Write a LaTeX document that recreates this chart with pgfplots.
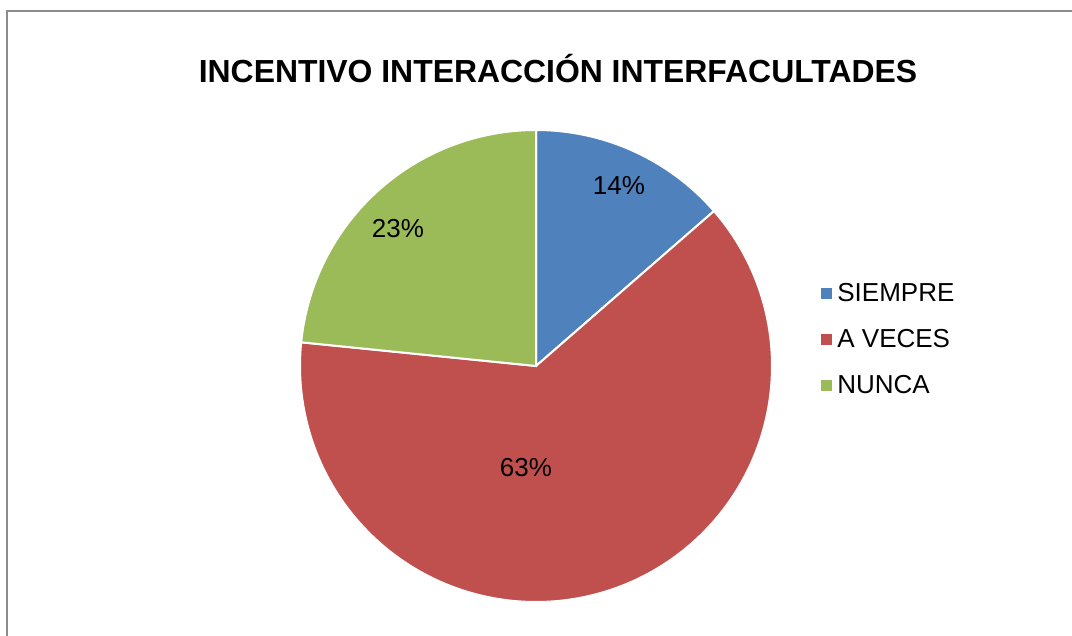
\documentclass[border=0pt]{standalone}
\usepackage{pgfplots}
\pgfplotsset{compat=1.18}
\usepackage{pgfplotstable}
\usepackage{fontspec}
\setmainfont{Liberation Sans}

\definecolor{siempre}{HTML}{4F81BD}
\definecolor{aveces}{HTML}{C0504D}
\definecolor{nunca}{HTML}{9BBB59}
\definecolor{marco}{HTML}{8C8C8C}

% porcentaje (la etiqueta muestra el valor redondeado)
\pgfplotstableread[col sep=comma]{
respuesta,porcentaje,etiqueta
SIEMPRE,13.6,14
A VECES,63.0,63
NUNCA,23.4,23
}\datos

\begin{document}
\begin{tikzpicture}
\pgfplotstablegetelem{0}{porcentaje}\of\datos \let\pA\pgfplotsretval
\pgfplotstablegetelem{1}{porcentaje}\of\datos \let\pB\pgfplotsretval
\pgfplotstablegetelem{2}{porcentaje}\of\datos \let\pC\pgfplotsretval
\pgfplotstablegetelem{0}{etiqueta}\of\datos \let\eA\pgfplotsretval
\pgfplotstablegetelem{1}{etiqueta}\of\datos \let\eB\pgfplotsretval
\pgfplotstablegetelem{2}{etiqueta}\of\datos \let\eC\pgfplotsretval
% angulos: desde arriba, en sentido horario
\pgfmathsetmacro\aA{90}
\pgfmathsetmacro\aB{\aA-3.6*\pA}
\pgfmathsetmacro\aC{\aB-3.6*\pB}
\pgfmathsetmacro\aD{\aC-3.6*\pC}
\begin{axis}[
    width=536pt, height=318pt, scale only axis,
    hide axis, clip=false,
    xmin=0, xmax=1072, ymin=0, ymax=636, y dir=reverse,
    legend style={at={(axis cs:815,275)}, anchor=north west,
        draw=none, fill=none, row sep=8.4pt,
        font=\fontsize{13}{15}\selectfont,
        nodes={inner xsep=2.5pt}},
    legend cell align=left,
    legend image code/.code={\fill[#1,draw=none] (0pt,-2.75pt) rectangle (5.5pt,2.75pt);},
  ]
  \addplot[fill=siempre, draw=white, line width=1pt, domain=\aB:\aA, samples=80]
    ({536+236*cos(x)}, {366-236*sin(x)}) -- (axis cs:536,366) -- cycle;
  \addlegendentry{SIEMPRE}
  \addplot[fill=aveces, draw=white, line width=1pt, domain=\aC:\aB, samples=200]
    ({536+236*cos(x)}, {366-236*sin(x)}) -- (axis cs:536,366) -- cycle;
  \addlegendentry{A VECES}
  \addplot[fill=nunca, draw=white, line width=1pt, domain=\aD:\aC, samples=100]
    ({536+236*cos(x)}, {366-236*sin(x)}) -- (axis cs:536,366) -- cycle;
  \addlegendentry{NUNCA}

  \draw[marco, line width=1.2pt] (axis cs:7,636) -- (axis cs:7,11) -- (axis cs:1072,11);
  \node[anchor=base, font=\bfseries\fontsize{15.95}{18}\selectfont]
    at (axis cs:558,83) {INCENTIVO INTERACCIÓN INTERFACULTADES};
  \node[anchor=base, font=\fontsize{13}{15}\selectfont] at (axis cs:619,195) {\eA\%};
  \node[anchor=base, font=\fontsize{13}{15}\selectfont] at (axis cs:526,477) {\eB\%};
  \node[anchor=base, font=\fontsize{13}{15}\selectfont] at (axis cs:398,238) {\eC\%};
\end{axis}
\pgfresetboundingbox
\path (current axis.south west) rectangle (current axis.north east);
\end{tikzpicture}
\end{document}
